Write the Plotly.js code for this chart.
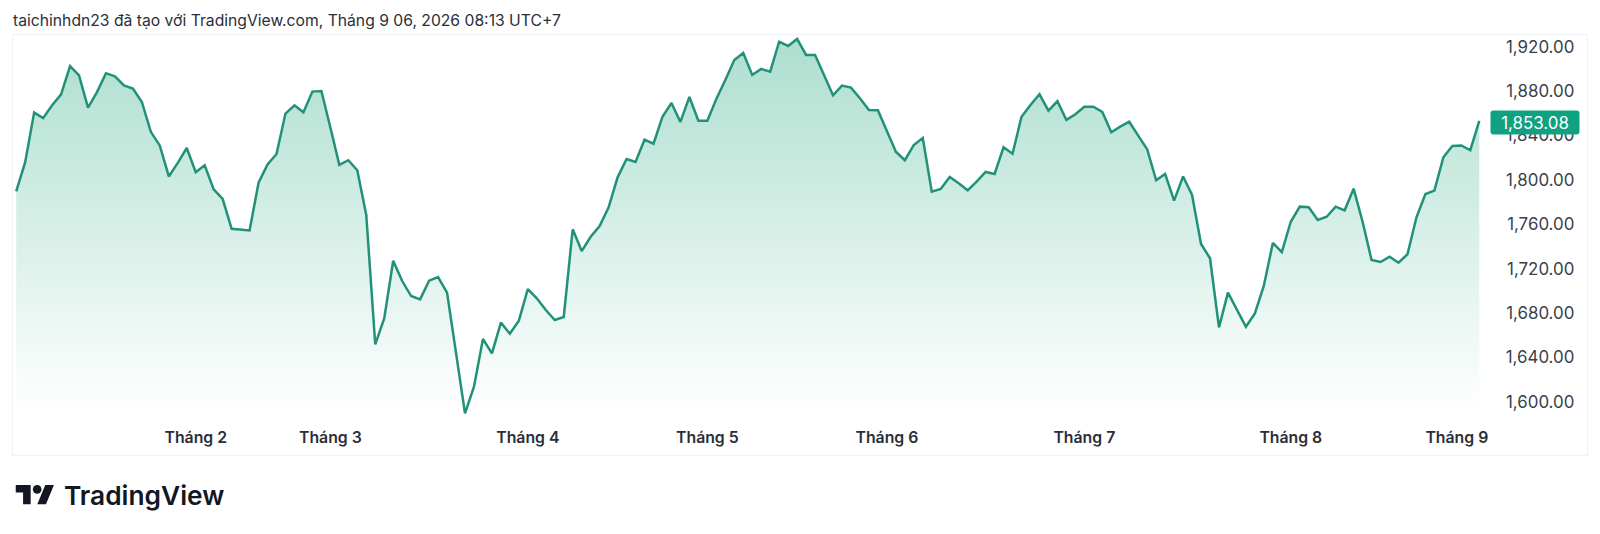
<!DOCTYPE html>
<html>
<head>
<meta charset="utf-8">
<script src="https://cdn.plot.ly/plotly-3.0.1.min.js"></script>
<style>
  html, body { margin: 0; padding: 0; background: #fff; }
</style>
</head>
<body>
<div id="chart" style="width:1600px;height:534px;"></div>
<script>
// daily close, weekends are skipped so x is just the bar number
var closes = [
  1789.6, 1815.9, 1860.6, 1855.6, 1867.2, 1877.0, 1902.4, 1894.1, 1865.1, 1879.1,
  1896.1, 1893.2, 1885.1, 1882.2, 1870.2, 1843.3, 1830.8, 1803.1, 1815.3, 1828.7,
  1806.9, 1813.2, 1791.4, 1782.8, 1755.9, 1755.0, 1754.4, 1797.4, 1813.8, 1823.3,
  1859.7, 1867.2, 1860.9, 1879.5, 1880.0, 1847.2, 1813.5, 1817.7, 1808.7, 1768.4,
  1651.9, 1675.3, 1727.2, 1708.9, 1695.4, 1692.4, 1709.2, 1712.5, 1698.4, 1644.1,
  1589.7, 1613.7, 1656.7, 1643.8, 1671.4, 1661.4, 1673.2, 1701.7, 1693.3, 1682.8,
  1673.8, 1676.5, 1755.5, 1735.9, 1748.8, 1758.5, 1775.3, 1802.3, 1818.8, 1816.1,
  1836.2, 1832.6, 1856.9, 1869.3, 1852.2, 1874.7, 1853.3, 1853.3, 1872.9, 1890.0,
  1908.0, 1914.3, 1894.5, 1899.9, 1897.5, 1924.5, 1920.6, 1926.9, 1912.5, 1912.5,
  1895.1, 1876.2, 1884.9, 1883.1, 1873.5, 1863.0, 1862.7, 1844.3, 1825.4, 1817.7,
  1831.4, 1837.7, 1789.4, 1791.8, 1802.6, 1796.9, 1790.6, 1798.4, 1807.1, 1805.3,
  1829.4, 1823.6, 1856.9, 1867.5, 1877.1, 1862.3, 1870.8, 1854.0, 1859.1, 1865.9,
  1865.9, 1861.2, 1842.9, 1847.9, 1852.4, 1839.8, 1827.6, 1799.6, 1805.3, 1781.3,
  1803.1, 1786.4, 1742.3, 1729.4, 1667.2, 1698.4, 1682.8, 1667.7, 1679.8, 1704.7,
  1743.2, 1735.0, 1762.3, 1775.9, 1775.3, 1763.9, 1766.8, 1775.9, 1772.6, 1792.1,
  1762.3, 1727.8, 1726.0, 1730.8, 1725.4, 1733.0, 1766.3, 1787.3, 1790.3, 1820.4,
  1830.5, 1831.0, 1826.7, 1853.08
];
var bars = closes.map(function(c, i) { return i; });

var monthBars = [20, 35, 57, 77, 97, 119, 142, 160.5];
var monthLabels = ['Tháng 2', 'Tháng 3', 'Tháng 4', 'Tháng 5', 'Tháng 6', 'Tháng 7', 'Tháng 8', 'Tháng 9'];
var priceTicks = [1600, 1640, 1680, 1720, 1760, 1800, 1840, 1880, 1920];
var lastPrice = closes[closes.length - 1];

var fontName = 'Inter, "Noto Sans", sans-serif';
var logo = 'data:image/svg+xml;utf8,' + encodeURIComponent(
  '<svg xmlns="http://www.w3.org/2000/svg" viewBox="0 4 36 18" width="360" height="180">' +
  '<path fill="#131722" d="M14 22H7V11H0V4h14v18zM28 22h-8l7.5-18h8L28 22z"/>' +
  '<circle fill="#131722" cx="20" cy="8" r="4"/></svg>');

var trace = {
  x: bars,
  y: closes,
  type: 'scatter',
  mode: 'lines',
  line: {color: '#22917a', width: 2.5},
  fill: 'tozeroy',
  fillgradient: {
    type: 'vertical',
    start: 1930,
    stop: 1592,
    colorscale: [[0, 'rgba(172,222,206,1)'], [1, 'rgba(255,255,255,1)']]
  },
  hoverinfo: 'skip'
};

var layout = {
  width: 1600,
  height: 534,
  margin: {l: 13, r: 13, t: 35, b: 79},
  paper_bgcolor: '#ffffff',
  plot_bgcolor: '#ffffff',
  showlegend: false,
  font: {family: fontName, color: '#2a2e39'},
  title: {
    text: 'taichinhdn23 đã tạo với TradingView.com, Tháng 9 06, 2026 08:13 UTC+7',
    font: {family: fontName, size: 15.7, color: '#2a2e39'},
    xref: 'container', x: 13 / 1600, xanchor: 'left',
    yref: 'container', y: 1 - 21 / 534, yanchor: 'middle'
  },
  xaxis: {
    range: [-0.357, 175],
    showgrid: false,
    zeroline: false,
    showline: true,
    mirror: true,
    linecolor: '#f0f3f6',
    linewidth: 1,
    tickmode: 'array',
    tickvals: monthBars,
    ticktext: monthLabels,
    ticks: 'inside',
    ticklen: 9,
    tickcolor: 'rgba(0,0,0,0)',
    ticklabelposition: 'inside',
    tickfont: {family: fontName, size: 15.8, weight: 600, color: '#2a2e39'}
  },
  yaxis: {
    range: [1552.2, 1930.5],
    side: 'right',
    showgrid: false,
    zeroline: false,
    showline: true,
    mirror: true,
    linecolor: '#f0f3f6',
    linewidth: 1,
    tickmode: 'array',
    tickvals: priceTicks,
    tickformat: ',.2f',
    ticks: 'inside',
    ticklen: 13,
    tickcolor: 'rgba(0,0,0,0)',
    ticklabelposition: 'inside',
    tickfont: {family: fontName, size: 16.9, color: '#3a3f4b'}
  },
  annotations: [
    {
      xref: 'paper', yref: 'y', x: (1580 - 13) / 1574, y: lastPrice - 1,
      xanchor: 'right', yanchor: 'middle',
      text: lastPrice.toLocaleString('en-US', {minimumFractionDigits: 2}),
      showarrow: false,
      font: {family: fontName, size: 16.9, color: '#ffffff'},
      bgcolor: '#10a082',
      width: 86, height: 21, align: 'center'
    },
    {
      xref: 'paper', yref: 'paper', x: (62 - 13) / 1574, y: -(495 - 455) / 420,
      xanchor: 'left', yanchor: 'middle',
      text: 'TradingView',
      showarrow: false,
      font: {family: fontName, size: 26.3, weight: 600, color: '#131722'}
    }
  ],
  images: [{
    source: logo,
    xref: 'paper', yref: 'paper',
    x: (15.5 - 13) / 1574, y: -(485 - 455) / 420,
    sizex: 39 / 1574, sizey: 19.5 / 420,
    sizing: 'stretch', xanchor: 'left', yanchor: 'top', layer: 'above'
  }]
};

Plotly.newPlot('chart', [trace], layout, {displayModeBar: false, staticPlot: true}).then(function() {
  var tag = document.querySelector('.annotation-text-g rect, .annotation rect');
  if (tag) tag.setAttribute('rx', 3);
});
</script>
</body>
</html>
